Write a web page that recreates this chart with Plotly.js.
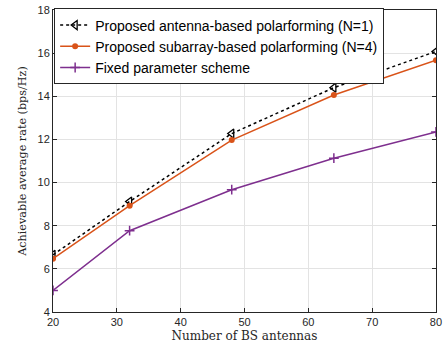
<!DOCTYPE html>
<html><head><meta charset="utf-8">
<script src="https://cdn.plot.ly/plotly-3.0.1.min.js"></script>
<style>html,body{margin:0;padding:0;background:#fff}#chart{width:443px;height:351px}</style>
</head><body><div id="chart"></div>
<script>
const antennas = [20, 32, 48, 64, 80];
const antennaBased = [6.65, 9.12, 12.27, 14.4, 16.08];
const subarrayBased = [6.47, 8.93, 11.97, 14.06, 15.67];
const fixedScheme = [5.0, 7.77, 9.67, 11.13, 12.35];
const names = ['Proposed antenna-based polarforming (N=1)', 'Proposed subarray-based polarforming (N=4)', 'Fixed parameter scheme'];

const traces = [
  {x: antennas, y: antennaBased, name: names[0], mode: 'lines+markers',
   line: {color: '#000000', width: 1.5, dash: 'dot'},
   marker: {symbol: 'triangle-left-open', size: 8, color: '#000000', line: {width: 1.3}}},
  {x: antennas, y: subarrayBased, name: names[1], mode: 'lines+markers',
   line: {color: '#D95319', width: 1.5},
   marker: {symbol: 'circle', size: 6, color: '#D95319'}},
  {x: antennas, y: fixedScheme, name: names[2], mode: 'lines+markers',
   line: {color: '#7E2F8E', width: 1.5},
   marker: {symbol: 'cross-thin-open', size: 7, color: '#7E2F8E', line: {width: 1.5, color: '#7E2F8E'}}}
];

const axisCommon = {
  showline: true, mirror: 'ticks', linecolor: '#262626', linewidth: 1,
  ticks: 'inside', ticklen: 4, tickcolor: '#262626',
  showgrid: true, gridcolor: '#e3e3e3', gridwidth: 1, zeroline: false,
  tickfont: {family: 'Liberation Sans, Arial, sans-serif', size: 11, color: '#262626'}
};

const layout = {
  width: 443, height: 351,
  margin: {l: 53, r: 7, t: 10, b: 39},
  paper_bgcolor: '#ffffff', plot_bgcolor: '#ffffff',
  showlegend: true,
  xaxis: Object.assign({}, axisCommon, {
    range: [19.999, 80.001], tickvals: [20, 30, 40, 50, 60, 70, 80],
    title: {text: 'Number of BS antennas', standoff: 4,
      font: {family: 'DejaVu Serif, Liberation Serif, serif', size: 12, color: '#262626'}}
  }),
  yaxis: Object.assign({}, axisCommon, {
    range: [4, 18], tickvals: [4, 6, 8, 10, 12, 14, 16, 18],
    title: {text: 'Achievable average rate (bps/Hz)', standoff: 8,
      font: {family: 'DejaVu Serif, Liberation Serif, serif', size: 11.2, color: '#262626'}}
  }),
  legend: {
    x: 0.003, y: 1.005, xanchor: 'left', yanchor: 'top',
    bgcolor: '#ffffff', bordercolor: '#262626', borderwidth: 1,
    font: {family: 'Liberation Sans, Arial, sans-serif', size: 14, color: '#000000'},
    tracegroupgap: 0, itemwidth: 30
  }
};

Plotly.newPlot('chart', traces, layout, {displayModeBar: false, staticPlot: true});
</script>
</body></html>
